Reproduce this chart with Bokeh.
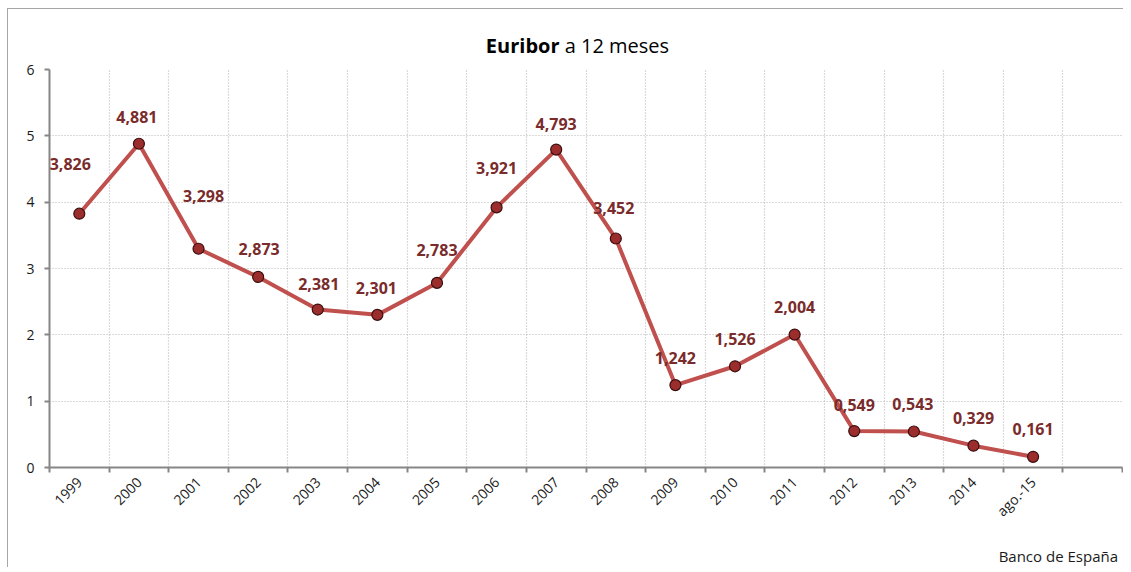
import math
from bokeh.plotting import figure
from bokeh.layouts import column
from bokeh.models import ColumnDataSource, FixedTicker, LabelSet, Div
from bokeh.core.properties import value
from bokeh.embed import file_html
from bokeh.resources import INLINE

categories = ["1999", "2000", "2001", "2002", "2003", "2004", "2005", "2006", "2007",
              "2008", "2009", "2010", "2011", "2012", "2013", "2014", "ago.-15"]
euribor = [3.826, 4.881, 3.298, 2.873, 2.381, 2.301, 2.783, 3.921, 4.793,
           3.452, 1.242, 1.526, 2.004, 0.549, 0.543, 0.329, 0.161]
y_ticks = [0, 1, 2, 3, 4, 5, 6]
n_slots = len(categories) + 1

# label placement (pixel offsets from each point)
lab_dx = [-9, -2, 5, 1, 1, -1, 0, 0, 0, -2, 0, 0, 0, 0, -1, 0, 0]
lab_dy = [50, 27, 53, 28, 26, 27, 33, 39, 26, 31, 27, 27, 28, 26, 27, 28, 28]

FONT = "Open Sans"
W = 1115
xs = [i + 0.5 for i in range(len(categories))]
labels = [f"{v:.3f}".replace(".", ",") for v in euribor]

src = ColumnDataSource(dict(x=xs, y=euribor, lab=labels, dx=lab_dx, dy=lab_dy))

p = figure(width=W, height=484, output_backend="svg", toolbar_location=None,
           x_range=(0, n_slots), y_range=(0, 6),
           min_border_left=41, min_border_top=8, min_border_bottom=78, min_border_right=1)
p.outline_line_color = None
p.background_fill_color = "white"
p.border_fill_color = "white"
p.margin = 0

# x axis: labels at category centers, ticks & grid at boundaries
p.xaxis.ticker = FixedTicker(ticks=xs, minor_ticks=list(range(n_slots + 1)))
p.xaxis.major_label_overrides = {x: c for x, c in zip(xs, categories)}
p.xaxis.major_tick_out = 0
p.xaxis.major_tick_in = 0
p.xaxis.minor_tick_out = 5
p.xaxis.minor_tick_in = 0
p.xaxis.minor_tick_line_color = "#868686"
p.xaxis.minor_tick_line_width = 2
p.xaxis.major_label_orientation = math.pi / 4
p.xaxis.major_label_standoff = 7
p.xgrid.ticker = FixedTicker(ticks=list(range(n_slots + 1)))

p.yaxis.ticker = FixedTicker(ticks=y_ticks)
p.yaxis.major_tick_out = 5
p.yaxis.major_tick_in = 0
p.yaxis.minor_tick_line_color = None
p.yaxis.major_tick_line_color = "#868686"
p.yaxis.major_tick_line_width = 2
p.yaxis.major_label_standoff = 10

for ax in (p.xaxis, p.yaxis):
    ax.axis_line_color = "#868686"
    ax.axis_line_width = 2
    ax.major_label_text_font = FONT
    ax.major_label_text_font_size = "14px"
    ax.major_label_text_color = "#1a1a1a"

for g in (p.xgrid, p.ygrid):
    g.grid_line_color = "#b5b5b5"
    g.grid_line_dash = "1 2"
    g.grid_line_width = 1.2

p.line("x", "y", source=src, line_color="#C0504D", line_width=4)
p.scatter("x", "y", source=src, size=11, fill_color="#9B2D2D", line_color="#3a0e0e", line_width=1.2)

ls = LabelSet(x="x", y="y", text="lab", source=src, x_offset="dx", y_offset="dy",
              text_align="center", text_baseline="middle",
              text_font=value(FONT), text_font_style="bold", text_font_size="16px",
              text_color="#7A2B2B")
p.add_layout(ls)

title_div = Div(
    text=('<div style="width:%dpx;height:52px;text-align:center;font-family:\'Open Sans\';'
          'font-size:20px;color:#000;padding-left:0px;box-sizing:border-box;">'
          '<div style="position:relative;top:25px;height:24px;line-height:24px;padding-left:24px;">'
          '<b>Euribor</b> a 12 meses</div></div>') % W,
    width=W, height=52, margin=0)

source_div = Div(
    text=('<div style="width:%dpx;height:22px;line-height:22px;text-align:right;'
          'font-family:\'Open Sans\';font-size:15px;color:#1a1a1a;padding-right:5px;'
          'box-sizing:border-box;">Banco de España</div>') % W,
    width=W, height=22, margin=0)

layout = column(title_div, p, source_div, spacing=0,
                styles={"margin-left": "7px", "margin-top": "8px",
                        "border-left": "1px solid #a6a6a6", "border-top": "1px solid #a6a6a6",
                        "background-color": "white"})

open("out.html", "w").write(file_html(layout, INLINE))
